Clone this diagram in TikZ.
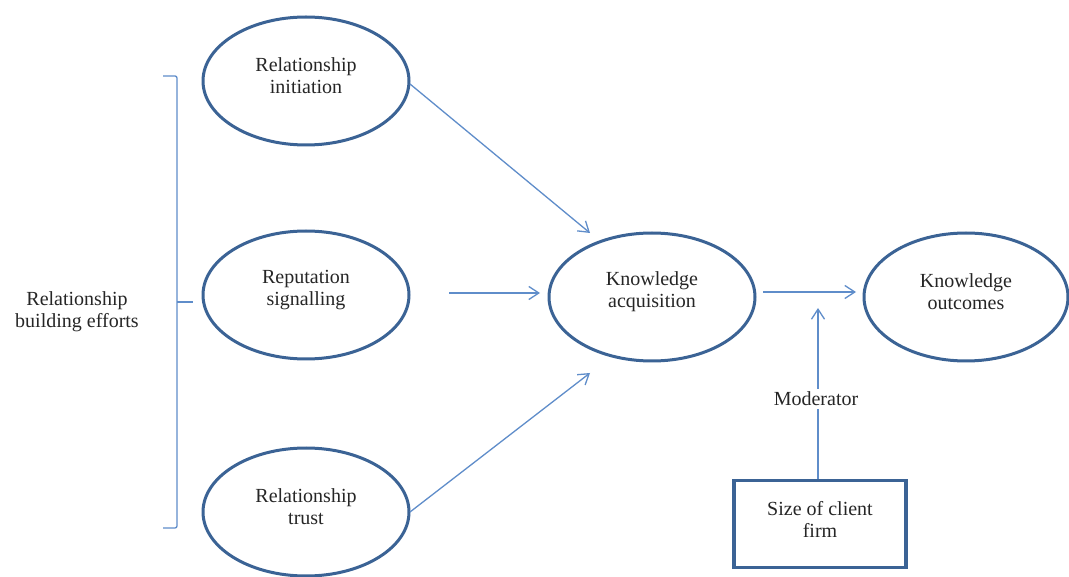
\documentclass[tikz,border=0pt]{standalone}
\usepackage{fontspec}
\setmainfont{Liberation Serif}
\usetikzlibrary{shapes.geometric,arrows.meta}
\definecolor{rimblue}{HTML}{3B6395}
\definecolor{linkblue}{HTML}{5F8DCA}
\tikzset{
  txt/.style={font=\fontsize{20}{22}\selectfont, align=center, text=black!85},
  construct/.style={ellipse, draw=rimblue, line width=3pt, inner sep=0pt,
    minimum width=206pt, minimum height=128pt},
  caption/.style={label={[txt,yshift=5pt]center:#1}},
  sizebox/.style={draw=rimblue, line width=3.5pt, inner sep=0pt,
    minimum width=172pt, minimum height=87pt},
  link/.style={draw=linkblue, line width=1.3pt,
    -{Straight Barb[length=10pt,width=13pt,line width=1.3pt]}},
  brace/.style={draw=linkblue, line width=1.3pt, rounded corners=2pt},
}
\begin{document}
\begin{tikzpicture}[x=1pt,y=-1pt]
\useasboundingbox[fill=white] (0,0) rectangle (1069,577);

% constructs
\node[construct, caption={Relationship\\initiation}] (init)  at (306,81)  {};
\node[construct, caption={Reputation\\signalling}]   (rep)   at (306,295) {};
\node[construct, caption={Relationship\\trust}]      (trust) at (306,512) {};
\node[construct, caption={Knowledge\\acquisition}]   (acq)   at (652,297) {};
\node[construct, minimum width=204pt, caption={Knowledge\\outcomes}] (out) at (966,297) {};
\node[sizebox, caption={Size of client\\firm}] (size) at (820,524) {};

% grouping label and bracket
\node[txt] (group) at (77,312) {Relationship\\building efforts};
\coordinate (btop) at (163,76);
\coordinate (bbot) at (163,528);
\coordinate (bspine) at (177,302);
\coordinate (bmid) at (193,302);
\draw[brace] (btop) -- (btop -| bspine) -- (bbot -| bspine) -- (bbot);
\draw[brace] (bspine) -- (bmid);

% arrows into knowledge acquisition
\coordinate (initfrom)  at (410,84);
\coordinate (acqtop)    at (590,233);
\coordinate (repfrom)   at (449,293);
\coordinate (acqleft)   at (540,293);
\coordinate (trustfrom) at (410,512);
\coordinate (acqbottom) at (590,373);
\draw[link] (initfrom) -- (acqtop);
\draw[link] (repfrom) -- (acqleft);
\draw[link] (trustfrom) -- (acqbottom);

% acquisition to outcomes
\coordinate (acqfrom) at (763,292);
\coordinate (outto)   at (856,292);
\draw[link] (acqfrom) -- (outto);

% moderating effect
\coordinate (modtip) at (818,308);
\draw[link] (size.north -| modtip) -- (modtip);
\node[txt, fill=white, inner sep=3pt] (mod) at (816,399) {Moderator};
\end{tikzpicture}
\end{document}
